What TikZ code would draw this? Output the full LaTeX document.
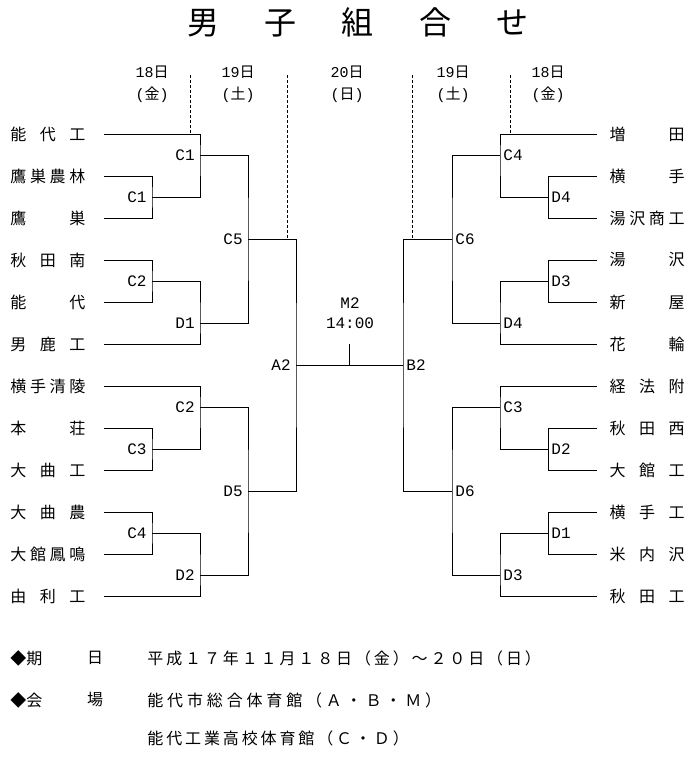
\documentclass[tikz,border=0pt]{standalone}
\usepackage{fontspec}
\setmainfont{Noto Sans CJK JP}
\newfontfamily\mono{Liberation Mono}
\usepackage{tikz}
\usetikzlibrary{positioning}

\newcommand{\teamname}[1]{\makebox[75pt][s]{#1}}

\begin{document}
\begin{tikzpicture}[x=1pt,y=-1pt,line width=0.8pt,
  lteam/.style={anchor=west,inner sep=0pt,text width=93pt,align=left,font=\fontsize{16}{18}\selectfont},
  rteam/.style={anchor=east,inner sep=0pt,text width=87pt,align=right,font=\fontsize{16}{18}\selectfont},
  mlabel/.style={font=\mono\fontsize{16}{16}\selectfont,inner ysep=0pt},
  lm/.style={label={[mlabel,inner xsep=5pt]left:#1}},
  rm/.style={label={[mlabel,inner xsep=3pt]right:#1}},
  day/.style={align=center,font=\fontsize{15}{22}\selectfont,inner sep=0pt},
  daysep/.style={dash pattern=on 3pt off 2pt},
  info/.style={inner sep=0pt,font=\fontsize{16}{18}\selectfont}]
  \useasboundingbox (0,0) rectangle (700,759);

  % title and days
  \node[font=\fontsize{32}{34}\selectfont] (title) at (358,22)
    {\makebox[342pt][s]{男\hfil 子\hfil 組\hfil 合\hfil せ}};
  \node[day] (h1) at (152,84) {{\mono 18}日\\{\mono (}金{\mono )}};
  \node[day] (h2) at (238,84) {{\mono 19}日\\{\mono (}土{\mono )}};
  \node[day] (h3) at (347,84) {{\mono 20}日\\{\mono (}日{\mono )}};
  \node[day] (h4) at (453,84) {{\mono 19}日\\{\mono (}土{\mono )}};
  \node[day] (h5) at (548,84) {{\mono 18}日\\{\mono (}金{\mono )}};
  \coordinate (d1) at (190,75);
  \coordinate (d2) at (287,75);
  \coordinate (d3) at (412,75);
  \coordinate (d4) at (510,75);

  % left teams
  \node[lteam] (L1)  at (10,134) {\teamname{能\hfil 代\hfil 工}};
  \node[lteam] (L2)  at (10,176) {\teamname{鷹\hfil 巣\hfil 農\hfil 林}};
  \node[lteam] (L3)  at (10,218) {\teamname{鷹\hfil 巣}};
  \node[lteam] (L4)  at (10,260) {\teamname{秋\hfil 田\hfil 南}};
  \node[lteam] (L5)  at (10,302) {\teamname{能\hfil 代}};
  \node[lteam] (L6)  at (10,344) {\teamname{男\hfil 鹿\hfil 工}};
  \node[lteam] (L7)  at (10,386) {\teamname{横\hfil 手\hfil 清\hfil 陵}};
  \node[lteam] (L8)  at (10,428) {\teamname{本\hfil 荘}};
  \node[lteam] (L9)  at (10,470) {\teamname{大\hfil 曲\hfil 工}};
  \node[lteam] (L10) at (10,512) {\teamname{大\hfil 曲\hfil 農}};
  \node[lteam] (L11) at (10,554) {\teamname{大\hfil 館\hfil 鳳\hfil 鳴}};
  \node[lteam] (L12) at (10,596) {\teamname{由\hfil 利\hfil 工}};

  % right teams
  \node[rteam] (R1)  at (685,134) {\teamname{増\hfil 田}};
  \node[rteam] (R2)  at (685,176) {\teamname{横\hfil 手}};
  \node[rteam] (R3)  at (685,218) {\teamname{湯\hfil 沢\hfil 商\hfil 工}};
  \node[rteam] (R4)  at (685,260) {\teamname{湯\hfil 沢}};
  \node[rteam] (R5)  at (685,302) {\teamname{新\hfil 屋}};
  \node[rteam] (R6)  at (685,344) {\teamname{花\hfil 輪}};
  \node[rteam] (R7)  at (685,386) {\teamname{経\hfil 法\hfil 附}};
  \node[rteam] (R8)  at (685,428) {\teamname{秋\hfil 田\hfil 西}};
  \node[rteam] (R9)  at (685,470) {\teamname{大\hfil 館\hfil 工}};
  \node[rteam] (R10) at (685,512) {\teamname{横\hfil 手\hfil 工}};
  \node[rteam] (R11) at (685,554) {\teamname{米\hfil 内\hfil 沢}};
  \node[rteam] (R12) at (685,596) {\teamname{秋\hfil 田\hfil 工}};

  % left matches
  \coordinate[lm=C1] (lC1a) at (152,197);
  \coordinate[lm=C1] (lC1b) at (200,155);
  \coordinate[lm=C2] (lC2a) at (152,281);
  \coordinate[lm=D1] (lD1)  at (200,323);
  \coordinate[lm=C5] (lC5)  at (248,239);
  \coordinate[lm=C3] (lC3)  at (152,449);
  \coordinate[lm=C2] (lC2b) at (200,407);
  \coordinate[lm=C4] (lC4)  at (152,533);
  \coordinate[lm=D2] (lD2)  at (200,575);
  \coordinate[lm=D5] (lD5)  at (248,491);
  \coordinate[lm=A2] (A2)   at (296,365);

  % right matches
  \coordinate[rm=D4] (rD4a) at (548,197);
  \coordinate[rm=C4] (rC4)  at (500,155);
  \coordinate[rm=D3] (rD3a) at (548,281);
  \coordinate[rm=D4] (rD4b) at (500,323);
  \coordinate[rm=C6] (rC6)  at (452,239);
  \coordinate[rm=D2] (rD2)  at (548,449);
  \coordinate[rm=C3] (rC3)  at (500,407);
  \coordinate[rm=D1] (rD1)  at (548,533);
  \coordinate[rm=D3] (rD3b) at (500,575);
  \coordinate[rm=D6] (rD6)  at (452,491);
  \coordinate[rm=B2] (B2)   at (403,365);

  \node[mlabel,align=center,font=\mono\fontsize{16}{20}\selectfont] (M2) at (350,313) {M2\\14:00};

  \draw (L2.east) -| (lC1a) |- (L3.east);
  \draw (L1.east) -| (lC1b) |- (lC1a);
  \draw (L4.east) -| (lC2a) |- (L5.east);
  \draw (lC2a) -| (lD1) |- (L6.east);
  \draw (lC1b) -| (lC5) |- (lD1);
  \draw (L8.east) -| (lC3) |- (L9.east);
  \draw (L7.east) -| (lC2b) |- (lC3);
  \draw (L10.east) -| (lC4) |- (L11.east);
  \draw (lC4) -| (lD2) |- (L12.east);
  \draw (lC2b) -| (lD5) |- (lD2);
  \draw (lC5) -| (A2) |- (lD5);

  \draw (R2.west) -| (rD4a) |- (R3.west);
  \draw (R1.west) -| (rC4) |- (rD4a);
  \draw (R4.west) -| (rD3a) |- (R5.west);
  \draw (rD3a) -| (rD4b) |- (R6.west);
  \draw (rC4) -| (rC6) |- (rD4b);
  \draw (R8.west) -| (rD2) |- (R9.west);
  \draw (R7.west) -| (rC3) |- (rD2);
  \draw (R10.west) -| (rD1) |- (R11.west);
  \draw (rD1) -| (rD3b) |- (R12.west);
  \draw (rC3) -| (rD6) |- (rD3b);
  \draw (rC6) -| (B2) |- (rD6);

  \draw (A2) -- coordinate (mid) (B2);
  \draw (mid) -- ++(0,-21);

  \draw[daysep] (d1) -- (d1 |- L1.east);
  \draw[daysep] (d2) -- (d2 |- lC5);
  \draw[daysep] (d3) -- (d3 |- rC6);
  \draw[daysep] (d4) -- (d4 |- R1.west);

  % schedule and venues
  \node[info,anchor=west] (kikan) at (10,658) {◆期};
  \node[info] (kikan2) at (95,658) {日};
  \node[info,anchor=west] (date) at (147,658)
    {\addfontfeature{LetterSpace=18}平成１７年１１月１８日（金）～２０日（日）};
  \node[info,anchor=west] (kaijo) at (10,700) {◆会};
  \node[info] (kaijo2) at (95,700) {場};
  \node[info,anchor=west] (hall1) at (147,700)
    {\addfontfeature{LetterSpace=24}能代市総合体育館（Ａ・Ｂ・Ｍ）};
  \node[info,anchor=west] (hall2) at (147,738)
    {\addfontfeature{LetterSpace=18}能代工業高校体育館（Ｃ・Ｄ）};
\end{tikzpicture}
\end{document}
